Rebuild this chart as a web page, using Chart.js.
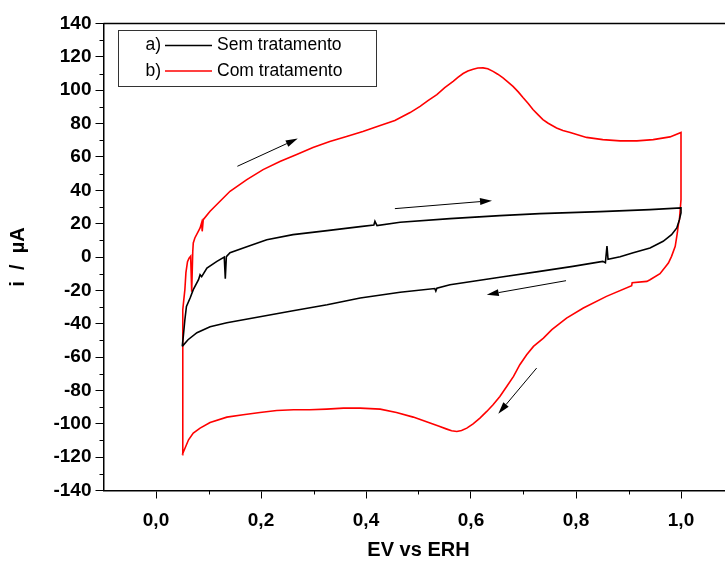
<!DOCTYPE html>
<html>
<head>
<meta charset="utf-8">
<script src="https://cdn.jsdelivr.net/npm/chart.js@4.4.1/dist/chart.umd.min.js"></script>
<style>
    html, body { margin: 0; padding: 0; background: #fff; overflow: hidden; }
    #wrap { width: 740px; height: 563px; }
</style>
</head>
<body>
<div id="wrap"><canvas id="cv" width="740" height="563"></canvas></div>
<script>
// a) Sem tratamento - potential (V) and current (uA)
const semX = [0.050, 0.052, 0.055, 0.058, 0.065, 0.071, 0.081, 0.084, 0.087, 0.097,
    0.116, 0.130, 0.132, 0.134, 0.141, 0.173, 0.211, 0.261, 0.326, 0.389,
    0.415, 0.417, 0.421, 0.465, 0.560, 0.655, 0.731, 0.846, 0.941, 1.000,
    1.000, 0.997, 0.992, 0.982, 0.966, 0.941, 0.909, 0.884, 0.861, 0.859,
    0.856, 0.851, 0.794, 0.731, 0.655, 0.560, 0.535, 0.533, 0.531, 0.465,
    0.389, 0.326, 0.261, 0.198, 0.135, 0.103, 0.078, 0.061, 0.050];
const semY = [-53.6, -47.6, -37.6, -29.6, -24.6, -19.6, -13.6, -10.6, -11.8, -6.6,
    -2.6, 0.0, -13.0, 0.2, 2.6, 6.2, 10.4, 13.4, 15.8, 18.2,
    19.2, 21.4, 18.8, 20.8, 23.0, 24.8, 26.0, 27.2, 28.4, 29.4,
    26.4, 22.4, 17.4, 13.4, 9.4, 5.4, 2.6, 0.2, -1.3, 6.6,
    -3.4, -2.6, -5.6, -8.6, -12.1, -16.6, -18.7, -20.4, -18.9, -21.1,
    -24.6, -28.6, -32.2, -35.8, -39.4, -41.8, -45.4, -49.6, -53.6];

// b) Com tratamento
const comX = [0.050, 0.051, 0.053, 0.055, 0.057, 0.060, 0.063, 0.066, 0.068, 0.070,
    0.071, 0.074, 0.084, 0.087, 0.088, 0.090, 0.103, 0.122, 0.141, 0.173,
    0.204, 0.236, 0.268, 0.299, 0.331, 0.363, 0.394, 0.427, 0.455, 0.484,
    0.503, 0.518, 0.535, 0.550, 0.566, 0.575, 0.585, 0.594, 0.604, 0.613,
    0.623, 0.632, 0.642, 0.651, 0.661, 0.670, 0.680, 0.690, 0.699, 0.709,
    0.718, 0.728, 0.737, 0.747, 0.763, 0.775, 0.789, 0.820, 0.851, 0.884,
    0.916, 0.947, 0.979, 1.000, 1.000, 0.997, 0.995, 0.993, 0.989, 0.982,
    0.976, 0.960, 0.941, 0.935, 0.907, 0.906, 0.858, 0.814, 0.782, 0.754,
    0.738, 0.719, 0.706, 0.693, 0.681, 0.668, 0.655, 0.642, 0.630, 0.617,
    0.604, 0.592, 0.582, 0.573, 0.563, 0.554, 0.538, 0.522, 0.506, 0.490,
    0.458, 0.427, 0.389, 0.357, 0.325, 0.293, 0.262, 0.230, 0.198, 0.166,
    0.135, 0.103, 0.084, 0.071, 0.062, 0.050];
const comY = [-118.6, -31.6, -25.6, -19.6, -9.4, -2.8, -0.7, 0.5, -20.8, 3.2,
    8.4, 11.4, 17.4, 20.6, 15.4, 22.4, 27.4, 33.4, 39.4, 46.4,
    52.4, 57.3, 61.4, 65.6, 69.3, 72.3, 75.3, 78.8, 81.8, 86.6,
    90.3, 93.8, 97.4, 101.5, 105.3, 107.7, 110.0, 111.5, 112.6, 113.3,
    113.4, 112.9, 111.3, 109.6, 107.4, 105.0, 102.3, 99.0, 95.6, 92.0,
    88.4, 85.2, 82.4, 80.2, 77.4, 75.8, 74.6, 71.7, 70.4, 69.6,
    69.6, 70.4, 72.0, 74.7, 34.4, 22.4, 19.4, 14.4, 6.4, 0.4,
    -3.6, -10.0, -13.6, -14.6, -15.4, -17.2, -23.6, -30.6, -36.6, -43.6,
    -48.6, -53.6, -58.6, -64.6, -71.6, -77.6, -83.6, -88.6, -92.6, -96.6,
    -100.0, -102.6, -104.0, -104.6, -104.2, -103.2, -101.4, -99.6, -97.7, -96.0,
    -93.2, -91.2, -90.6, -90.6, -91.2, -91.6, -91.6, -92.0, -93.2, -94.6,
    -96.0, -99.2, -102.6, -105.6, -109.6, -118.6];

// scan direction arrows: [x, y] tail -> head
const arrowFrom = [[0.155, 54.4], [0.455, 29.0], [0.781, -14.2], [0.725, -66.6]];
const arrowTo = [[0.270, 71.0], [0.640, 33.8], [0.630, -22.6], [0.652, -94.0]];

const xTicks = [0, 0.2, 0.4, 0.6, 0.8, 1.0];
const xMinor = [0.1, 0.3, 0.5, 0.7, 0.9, 1.1];
const yTicks = [-140, -120, -100, -80, -60, -40, -20, 0, 20, 40, 60, 80, 100, 120, 140];
const yMinor = [-130, -110, -90, -70, -50, -30, -10, 10, 30, 50, 70, 90, 110, 130];

const legendLabels = ['a)', 'b)'];
const seriesNames = ['Sem tratamento', 'Com tratamento'];
const seriesColors = ['#000000', '#ff0000'];

(function() {
    'use strict';

    function toPoints(xs, ys) {
        return xs.map((x, i) => ({ x: x, y: ys[i] }));
    }

    // frame, minor ticks, arrows and the boxed legend
    const extras = {
        id: 'extras',
        afterDraw(chart) {
            const ctx = chart.ctx;
            const xs = chart.scales.x;
            const ys = chart.scales.y;
            const a = chart.chartArea;
            ctx.save();

            ctx.strokeStyle = '#000';
            ctx.lineWidth = 1.5;
            ctx.beginPath();
            ctx.moveTo(a.left, a.top);
            ctx.lineTo(a.right, a.top);
            ctx.lineTo(a.right, a.bottom);
            ctx.stroke();

            ctx.lineWidth = 1;
            ctx.beginPath();
            yMinor.forEach(v => {
                const p = Math.round(ys.getPixelForValue(v)) + 0.5;
                ctx.moveTo(a.left - 4, p);
                ctx.lineTo(a.left, p);
            });
            xMinor.forEach(v => {
                const p = Math.round(xs.getPixelForValue(v)) + 0.5;
                ctx.moveTo(p, a.bottom);
                ctx.lineTo(p, a.bottom + 4);
            });
            ctx.stroke();

            // arrows
            ctx.fillStyle = '#000';
            arrowFrom.forEach((f, i) => {
                const x0 = xs.getPixelForValue(f[0]), y0 = ys.getPixelForValue(f[1]);
                const x1 = xs.getPixelForValue(arrowTo[i][0]), y1 = ys.getPixelForValue(arrowTo[i][1]);
                const ang = Math.atan2(y1 - y0, x1 - x0);
                const len = 12, half = 3.5;
                const bx = x1 - len * Math.cos(ang), by = y1 - len * Math.sin(ang);
                ctx.beginPath();
                ctx.moveTo(x0, y0);
                ctx.lineTo(bx, by);
                ctx.stroke();
                ctx.beginPath();
                ctx.moveTo(x1, y1);
                ctx.lineTo(bx + half * Math.sin(ang), by - half * Math.cos(ang));
                ctx.lineTo(bx - half * Math.sin(ang), by + half * Math.cos(ang));
                ctx.closePath();
                ctx.fill();
            });

            // legend box
            ctx.strokeStyle = '#333';
            ctx.lineWidth = 1;
            ctx.strokeRect(118.5, 30.5, 258, 56);
            ctx.font = '17.5px "Liberation Sans", Arial, sans-serif';
            ctx.textBaseline = 'middle';
            ctx.fillStyle = '#000';
            legendLabels.forEach((lab, i) => {
                const y = 45.5 + i * 25.5;
                ctx.textAlign = 'right';
                ctx.fillText(lab, 161, y);
                ctx.strokeStyle = seriesColors[i];
                ctx.lineWidth = 1.5;
                ctx.beginPath();
                ctx.moveTo(165, y);
                ctx.lineTo(212, y);
                ctx.stroke();
                ctx.textAlign = 'left';
                ctx.fillText(seriesNames[i], 217, y);
            });
            ctx.restore();
        }
    };

    const tickFont = { family: '"Liberation Sans", Arial, sans-serif', size: 19, weight: 'bold' };
    const titleFont = { family: '"Liberation Sans", Arial, sans-serif', size: 20, weight: 'bold' };

    new Chart(document.getElementById('cv'), {
        type: 'scatter',
        data: {
            datasets: [
                {
                    label: seriesNames[0],
                    data: toPoints(semX, semY),
                    showLine: true,
                    borderColor: seriesColors[0],
                    borderWidth: 1.6,
                    pointRadius: 0,
                    tension: 0
                },
                {
                    label: seriesNames[1],
                    data: toPoints(comX, comY),
                    showLine: true,
                    borderColor: seriesColors[1],
                    borderWidth: 1.6,
                    pointRadius: 0,
                    tension: 0
                }
            ]
        },
        options: {
            responsive: false,
            animation: false,
            devicePixelRatio: 1,
            layout: { padding: { top: 23.5, right: 6.5, left: 0, bottom: 0 } },
            plugins: {
                legend: { display: false },
                tooltip: { enabled: false }
            },
            scales: {
                x: {
                    type: 'linear',
                    min: -0.1,
                    max: 1.1,
                    afterBuildTicks: axis => { axis.ticks = xTicks.map(v => ({ value: v })); },
                    afterFit: axis => { axis.height = 72.5; },
                    grid: { drawOnChartArea: false, drawTicks: true, tickLength: 8, color: '#000', lineWidth: 1 },
                    border: { display: true, color: '#000', width: 1.5 },
                    ticks: {
                        color: '#000',
                        font: tickFont,
                        padding: 11,
                        maxRotation: 0,
                        callback: v => v.toFixed(1).replace('.', ',')
                    },
                    title: { display: true, text: 'EV vs ERH', color: '#000', font: titleFont, padding: { top: 4, bottom: 1 } }
                },
                y: {
                    type: 'linear',
                    min: -140,
                    max: 140,
                    afterBuildTicks: axis => { axis.ticks = yTicks.map(v => ({ value: v })); },
                    afterFit: axis => { axis.width = 103.5; },
                    grid: { drawOnChartArea: false, drawTicks: true, tickLength: 8, color: '#000', lineWidth: 1 },
                    border: { display: true, color: '#000', width: 1.5 },
                    ticks: { color: '#000', font: tickFont, padding: 4, callback: v => String(v) },
                    title: { display: true, text: 'i  /  µA', color: '#000', font: titleFont, padding: { top: 6, bottom: 0 } }
                }
            }
        },
        plugins: [extras]
    });
})();
</script>
</body>
</html>
